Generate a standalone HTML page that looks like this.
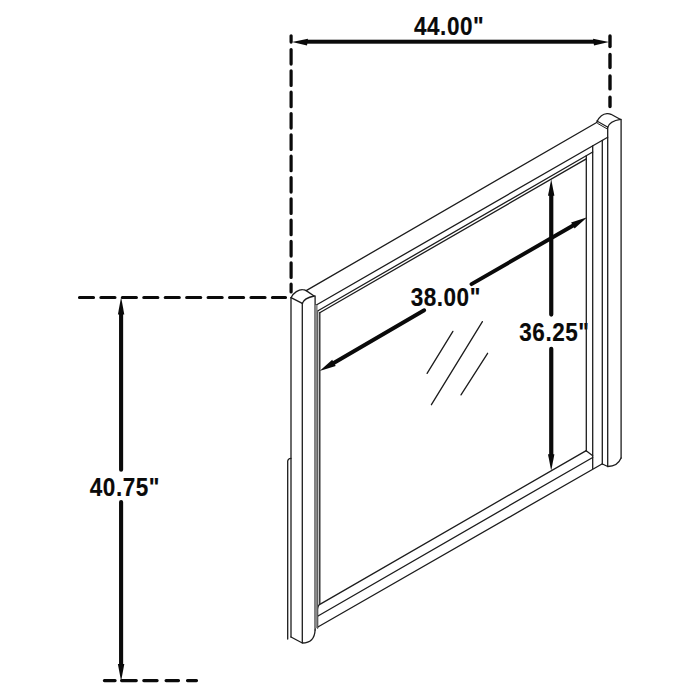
<!DOCTYPE html>
<html><head><meta charset="utf-8"><style>
html,body{margin:0;padding:0;background:#fff;width:700px;height:700px;overflow:hidden}
svg{display:block}
text{font-family:"Liberation Sans",sans-serif;font-weight:bold;font-size:25px;fill:#0a0a0a;stroke:#0a0a0a;stroke-width:0.15}
</style></head><body>
<svg width="700" height="700" viewBox="0 0 700 700">
<!-- dashed extension lines -->
<g stroke="#0a0a0a" stroke-width="3.2" fill="none" stroke-linecap="round">
  <line x1="291.1" y1="35.8" x2="291.1" y2="42.1"/>
  <line x1="291.1" y1="49.5" x2="291.1" y2="292" stroke-dasharray="14.6 6.73"/>
  <line x1="610" y1="36" x2="610" y2="46.5" stroke-width="3.4"/>
  <line x1="610" y1="54.5" x2="610" y2="106.5" stroke-width="3.4" stroke-dasharray="13 8.4"/>
  <line x1="79.5" y1="297.5" x2="285.5" y2="297.5" stroke-dasharray="14 7.44"/>
  <path d="M104.4,680.6H115.1M121.6,680.6H136.3M143.8,680.6H157.1M166.1,680.6H178.5M187.5,680.6H196.5"/>
</g>
<!-- dimension arrows -->
<g fill="#0a0a0a" stroke="none">
  <!-- 44.00 -->
  <rect x="306" y="39.7" width="289" height="4"/>
  <polygon points="292,41.9 308,38.8 307,45.6"/>
  <polygon points="609,42 593,38.8 594,45.6"/>
  <!-- 40.75 -->
  <path d="M121.1,313V469.8M121.1,502.1V665" stroke="#0a0a0a" stroke-width="4.1" stroke-linecap="round"/>
  <polygon points="121.1,296.9 117.9,314.6 124.3,314.6"/>
  <polygon points="121.1,681.2 117.9,664 124.3,664"/>
  <!-- 36.25 -->
  <path d="M551.25,194V314.6M551.25,348.8V456" stroke="#0a0a0a" stroke-width="4.2" stroke-linecap="round"/>
  <polygon points="551.2,179.3 548,195.7 554.4,195.7"/>
  <polygon points="551.2,470.7 548,454.3 554.4,454.3"/>
</g>
<g stroke="#0a0a0a" stroke-width="3.9" fill="none" stroke-linecap="round">
  <line x1="332" y1="364" x2="424.2" y2="310.2"/>
  <line x1="471.5" y1="284.1" x2="574" y2="225"/>
</g>
<g fill="#0a0a0a">
  <polygon points="319.6,371.1 332.2,359.8 335.7,365.9"/>
  <polygon points="587.2,217.3 571.1,222.5 574.6,228.6"/>
</g>
<!-- texts -->
<text transform="translate(414,35.3) scale(0.9,1)" letter-spacing="0.6">44.00"</text>
<text transform="translate(410.7,305.9) scale(0.9,1)" letter-spacing="0.6">38.00"</text>
<text transform="translate(519.3,340.8) scale(0.9,1)" letter-spacing="0.6">36.25"</text>
<text transform="translate(89.8,495.6) scale(0.9,1)" letter-spacing="0.6">40.75"</text>

<!-- frame -->
<g stroke="#1c1c1c" stroke-width="1.3" fill="none" stroke-linejoin="round" stroke-linecap="round">
  <!-- left post -->
  <path d="M291,297.7 C293.5,292.5 299,289.5 302.5,289.6 C304,289.6 305,290 306.2,290.6 L314.1,296"/>
  <path d="M291,297.7 L302.3,303.4 Q304,298 314.3,296"/>
  <line x1="291" y1="297.7" x2="291" y2="637"/>
  <line x1="302.3" y1="303.3" x2="302.3" y2="642.8"/>
  <line x1="315.1" y1="296" x2="315.1" y2="630"/>
  <path d="M291,637 L302.3,643 Q314.5,643 315.1,630"/>
  <path d="M291,458.3 Q288,458.5 287.7,461 L287.7,639"/>
  <!-- right post -->
  <path d="M597.1,121.4 C599.5,116.5 603.5,113.8 607,113.6 C608.5,113.5 609.8,113.7 611,114.3 L620.6,119.5"/>
  <path d="M607.6,127.6 Q609.5,121 620.6,119.4"/>
  <line x1="596.9" y1="120.9" x2="607.5" y2="127" stroke-width="1.1"/>
  <line x1="597.6" y1="123.4" x2="606.6" y2="128.6" stroke-width="1"/>
  <line x1="607.7" y1="127.1" x2="607.7" y2="466.5"/>
  <line x1="621.1" y1="119.5" x2="621.1" y2="458"/>
  <path d="M602.4,464 L607.8,466.5 Q617.5,466.5 621.1,458"/>
  <line x1="602.3" y1="140.3" x2="602.3" y2="464"/>
  <line x1="592.7" y1="145.8" x2="592.7" y2="468.5"/>
  <line x1="586.3" y1="155.8" x2="586.3" y2="451"/>
  <!-- top rail -->
  <line x1="306.2" y1="290.6" x2="597.1" y2="122.2"/>
  <line x1="315.9" y1="305.2" x2="607.7" y2="137.2"/>
  <line x1="317.6" y1="311" x2="592.7" y2="152"/>
  <line x1="319.7" y1="312.7" x2="586.3" y2="158.9"/>
  <!-- left inner -->
  <line x1="317.6" y1="311" x2="317.6" y2="628"/>
  <line x1="319.8" y1="312.7" x2="319.8" y2="603.5"/>
  <!-- bottom rail -->
  <path d="M317.3,609.5 Q318,605 320.3,604.1 L586.2,450.6"/>
  <line x1="318" y1="616" x2="592.7" y2="457.5"/>
  <line x1="317" y1="627.5" x2="602.4" y2="463.7"/>
  <line x1="586.2" y1="450.8" x2="592.7" y2="455.7"/>
  <!-- glass reflections -->
  <line x1="452.9" y1="331.4" x2="427.1" y2="373.4" stroke-width="1.3"/>
  <line x1="482.4" y1="321.6" x2="431.4" y2="404.7" stroke-width="1.3"/>
  <line x1="487.6" y1="353.3" x2="461" y2="394.9" stroke-width="1.3"/>
</g>
<rect x="315.1" y="305" width="2.5" height="323" fill="#8a8a8a"/>
</svg>
</body></html>
